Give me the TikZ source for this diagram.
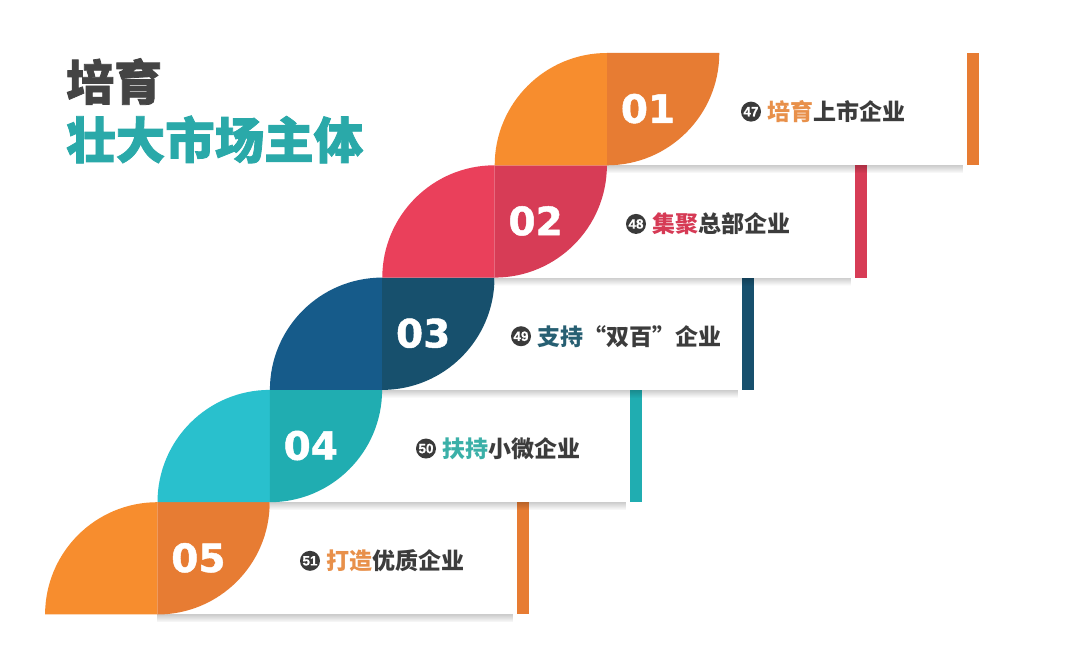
\documentclass[tikz,border=0pt]{standalone}
\usepackage{fontspec}
\usetikzlibrary{fadings}
\newfontfamily\cjk{Noto Sans CJK SC}
\newfontfamily\cjkheavy{Noto Sans CJK SC}[BoldFeatures={FakeBold=1.6}]
\newfontfamily\numfont{DejaVu Sans}[BoldFeatures={FakeBold=1.2}]
\newfontfamily\circfont{Liberation Sans}[BoldFeatures={FakeBold=0.6}]
\definecolor{oL}{HTML}{F78D2E}
\definecolor{oD}{HTML}{E77C33}
\definecolor{oH}{HTML}{E8904A}
\definecolor{rL}{HTML}{EA405B}
\definecolor{rD}{HTML}{D73C56}
\definecolor{rH}{HTML}{D63A55}
\definecolor{bL}{HTML}{165B8A}
\definecolor{bD}{HTML}{17506D}
\definecolor{bH}{HTML}{275F72}
\definecolor{tL}{HTML}{29C0CD}
\definecolor{tD}{HTML}{20ADB1}
\definecolor{tH}{HTML}{3BB0A8}
\definecolor{titleteal}{HTML}{2AA9A9}
\definecolor{titlegray}{HTML}{444444}
\definecolor{lgray}{HTML}{3C3C3C}
\definecolor{cgray}{HTML}{3A3A3A}
\tikzset{
  numtext/.style={font=\numfont\bfseries\fontsize{39}{39}\selectfont, text=white, inner sep=0pt},
  circnum/.style={circle, fill=cgray, minimum size=20pt, inner sep=0pt, text=white,
    font=\circfont\bfseries\fontsize{13.5}{13.5}\selectfont},
  labeltext/.style={anchor=west, inner sep=0pt, text=lgray,
    font=\cjk\bfseries\fontsize{23}{23}\selectfont},
  shadowbar/.style={black, opacity=0.2, path fading=south}
}
\begin{document}
\begin{tikzpicture}[x=1pt,y=1pt]
\useasboundingbox (0,0) rectangle (1080,667);
\fill[white] (0,0) rectangle (1080,667);
\def\rr{112.3}
\foreach \k/\lc/\dc/\hc/\nn/\cnum/\cx/\hword/\rest in {
  4/oL/oD/oH/05/51/310/打造/优质企业,
  3/tL/tD/tH/04/50/426/扶持/小微企业,
  2/bL/bD/bH/03/49/521/支持/“双百”企业,
  1/rL/rD/rH/02/48/636/集聚/总部企业,
  0/oL/oD/oH/01/47/751/培育/上市企业}{
  \pgfmathsetmacro\cc{607-112.4*\k}
  \pgfmathsetmacro\tp{614-112.3*\k}
  \pgfmathsetmacro\bt{\tp-\rr}
  \pgfmathsetmacro\bx{967-112.4*\k}
  \pgfmathsetmacro\my{(\tp+\bt)/2}
  % card
  \fill[white] (\cc,\bt) rectangle (\bx-2,\tp);
  \fill[shadowbar] (\cc,\bt) rectangle (\bx-4,\bt-8);
  % leaf
  \fill[\lc] (\cc-\rr,\bt) arc[start angle=180, end angle=90, radius=\rr] -- (\cc,\bt) -- cycle;
  \fill[\dc] (\cc,\tp) -- (\cc+\rr,\tp) arc[start angle=0, end angle=-90, radius=\rr] -- cycle;
  % bar
  \fill[\dc] (\bx,\bt) rectangle (\bx+12,\tp);
  % texts
  \node[numtext] (n\k) at (\cc+41,\my+0.5) {\nn};
  \node[circnum] (c\k) at (\cx,\my-2.5) {\cnum};
  \node[labeltext] (l\k) at (\cx+16,\my-2.5) {\textcolor{\hc}{\hword}\rest};
}
\node[anchor=west, inner sep=0pt, text=titlegray, font=\cjkheavy\bfseries\fontsize{48}{48}\selectfont] (t1) at (66,585.5) {培育};
\node[anchor=west, inner sep=0pt, text=titleteal, font=\cjkheavy\bfseries\fontsize{49.5}{49.5}\selectfont] (t2) at (66,527.5) {壮大市场主体};
\end{tikzpicture}
\end{document}
